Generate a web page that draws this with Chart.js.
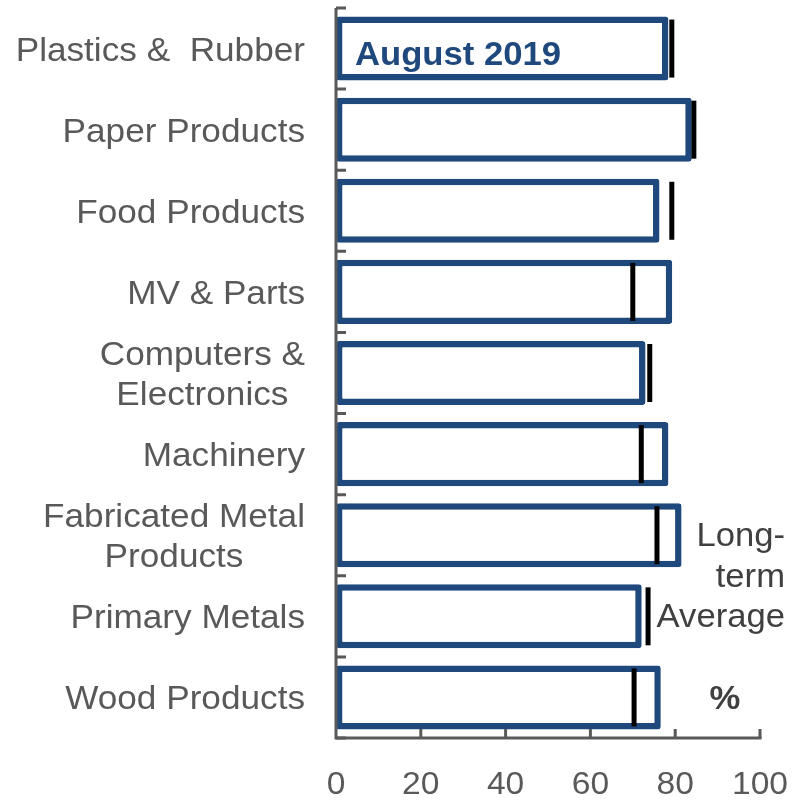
<!DOCTYPE html>
<html>
<head>
<meta charset="utf-8">
<script src="https://cdn.jsdelivr.net/npm/chart.js@4"></script>
<style>
  html, body { margin: 0; padding: 0; background: #fff; }
  #wrap { width: 792px; height: 801px; position: relative; }
</style>
</head>
<body>
<div id="wrap"><canvas id="barChart"></canvas></div>
<script>
"use strict";

// capacity utilisation by industry, %
const industries = [
  "Plastics &  Rubber",
  "Paper Products",
  "Food Products",
  "MV & Parts",
  "Computers &\nElectronics",
  "Machinery",
  "Fabricated Metal\nProducts",
  "Primary Metals",
  "Wood Products",
];
const august2019 = [78.4, 83.9, 76.3, 79.3, 73.0, 78.4, 81.5, 72.1, 76.6];
const longTermAverage = [79.2, 84.4, 79.2, 70.0, 74.0, 72.0, 75.7, 73.6, 70.3];
const xTicks = [0, 20, 40, 60, 80, 100];

const BLUE = "#1f497d";
const GREY = "#595959";
const FONT = '"Liberation Sans", Arial, sans-serif';
const STRETCH = 1.05;

// text helper, slightly widened like the original artwork
const drawText = (ctx, text, x, y, align, font, color) => {
  ctx.save();
  ctx.font = font;
  ctx.fillStyle = color;
  ctx.textBaseline = "alphabetic";
  const w = ctx.measureText(text).width * STRETCH;
  let left = x;
  if (align === "right") left = x - w;
  if (align === "center") left = x - w / 2;
  ctx.translate(left, y);
  ctx.scale(STRETCH, 1);
  ctx.textAlign = "left";
  ctx.fillText(text, 0, 0);
  ctx.restore();
  return w;
};

const axesAndLabels = {
  id: "axesAndLabels",
  afterDatasetsDraw(chart) {
    const { ctx, chartArea: area, scales } = chart;
    const x = scales.x;
    const y = scales.y;
    const band = y.getPixelForValue(1) - y.getPixelForValue(0);

    ctx.save();
    ctx.strokeStyle = GREY;
    ctx.lineWidth = 3;
    ctx.lineCap = "butt";

    // axis lines
    ctx.beginPath();
    ctx.moveTo(area.left, area.top);
    ctx.lineTo(area.left, area.bottom + 1.5);
    ctx.moveTo(area.left - 1.5, area.bottom);
    ctx.lineTo(area.right + 1.5, area.bottom);
    ctx.stroke();

    // category boundary ticks, pointing inward
    ctx.beginPath();
    for (let i = 0; i <= industries.length; i++) {
      const py = y.getPixelForValue(i) - band / 2;
      ctx.moveTo(area.left, py);
      ctx.lineTo(area.left + 10, py);
    }
    // value ticks on the bottom axis
    xTicks.forEach((v) => {
      if (v === 0) return;
      const px = x.getPixelForValue(v);
      ctx.moveTo(px, area.bottom);
      ctx.lineTo(px, area.bottom - 9);
    });
    ctx.stroke();
    ctx.restore();

    // tick labels
    xTicks.forEach((v) => {
      drawText(ctx, String(v), x.getPixelForValue(v), area.bottom + 56, "center", `32px ${FONT}`, GREY);
    });

    // category labels: block right-aligned, lines centred within the block
    const labelFont = `33.5px ${FONT}`;
    const rightEdge = area.left - 31;
    ctx.save();
    ctx.font = labelFont;
    industries.forEach((label, i) => {
      const lines = label.split("\n");
      const blockW = Math.max(...lines.map((l) => ctx.measureText(l).width)) * STRETCH;
      const cx = rightEdge - blockW / 2;
      const cy = y.getPixelForValue(i);
      lines.forEach((line, k) => {
        const base = cy + 12 + (k - (lines.length - 1) / 2) * 40;
        drawText(ctx, line, cx, base, "center", labelFont, GREY);
      });
    });
    ctx.restore();

    // series title inside the first bar
    drawText(ctx, "August 2019", area.left + 19, y.getPixelForValue(0) + 16.5, "left", `bold 33px ${FONT}`, BLUE);

    // marker key on the right
    const noteX = area.right + 25;
    const y6 = y.getPixelForValue(6);
    drawText(ctx, "Long-", noteX, y6 + 11, "right", `33px ${FONT}`, "#404040");
    drawText(ctx, "term", noteX, y6 + 52, "right", `33px ${FONT}`, "#404040");
    drawText(ctx, "Average", noteX, y6 + 92, "right", `33px ${FONT}`, "#404040");
    drawText(ctx, "%", x.getPixelForValue(91.7), y.getPixelForValue(8) + 12, "center", `bold 33px ${FONT}`, "#404040");
  },
};

new Chart(document.getElementById("barChart"), {
  data: {
    labels: industries,
    datasets: [
      {
        type: "line",
        label: "Long-term Average",
        data: longTermAverage,
        showLine: false,
        pointStyle: "line",
        rotation: 90,
        pointRadius: 29,
        pointHoverRadius: 29,
        pointBorderWidth: 5,
        pointBorderColor: "#000",
        borderColor: "#000",
        clip: false,
        order: 0,
      },
      {
        type: "bar",
        label: "August 2019",
        data: august2019,
        backgroundColor: "#fff",
        borderColor: BLUE,
        borderWidth: 6.5,
        borderSkipped: false,
        borderRadius: 3,
        categoryPercentage: 1,
        barPercentage: 0.79,
        order: 1,
      },
    ],
  },
  options: {
    indexAxis: "y",
    responsive: true,
    maintainAspectRatio: false,
    animation: false,
    layout: { autoPadding: false, padding: { left: 336, right: 32, top: 8, bottom: 63 } },
    plugins: {
      legend: { display: false },
      tooltip: { enabled: false },
    },
    scales: {
      x: { display: false, min: 0, max: 100 },
      y: { display: false },
    },
  },
  plugins: [axesAndLabels],
});
</script>
</body>
</html>
